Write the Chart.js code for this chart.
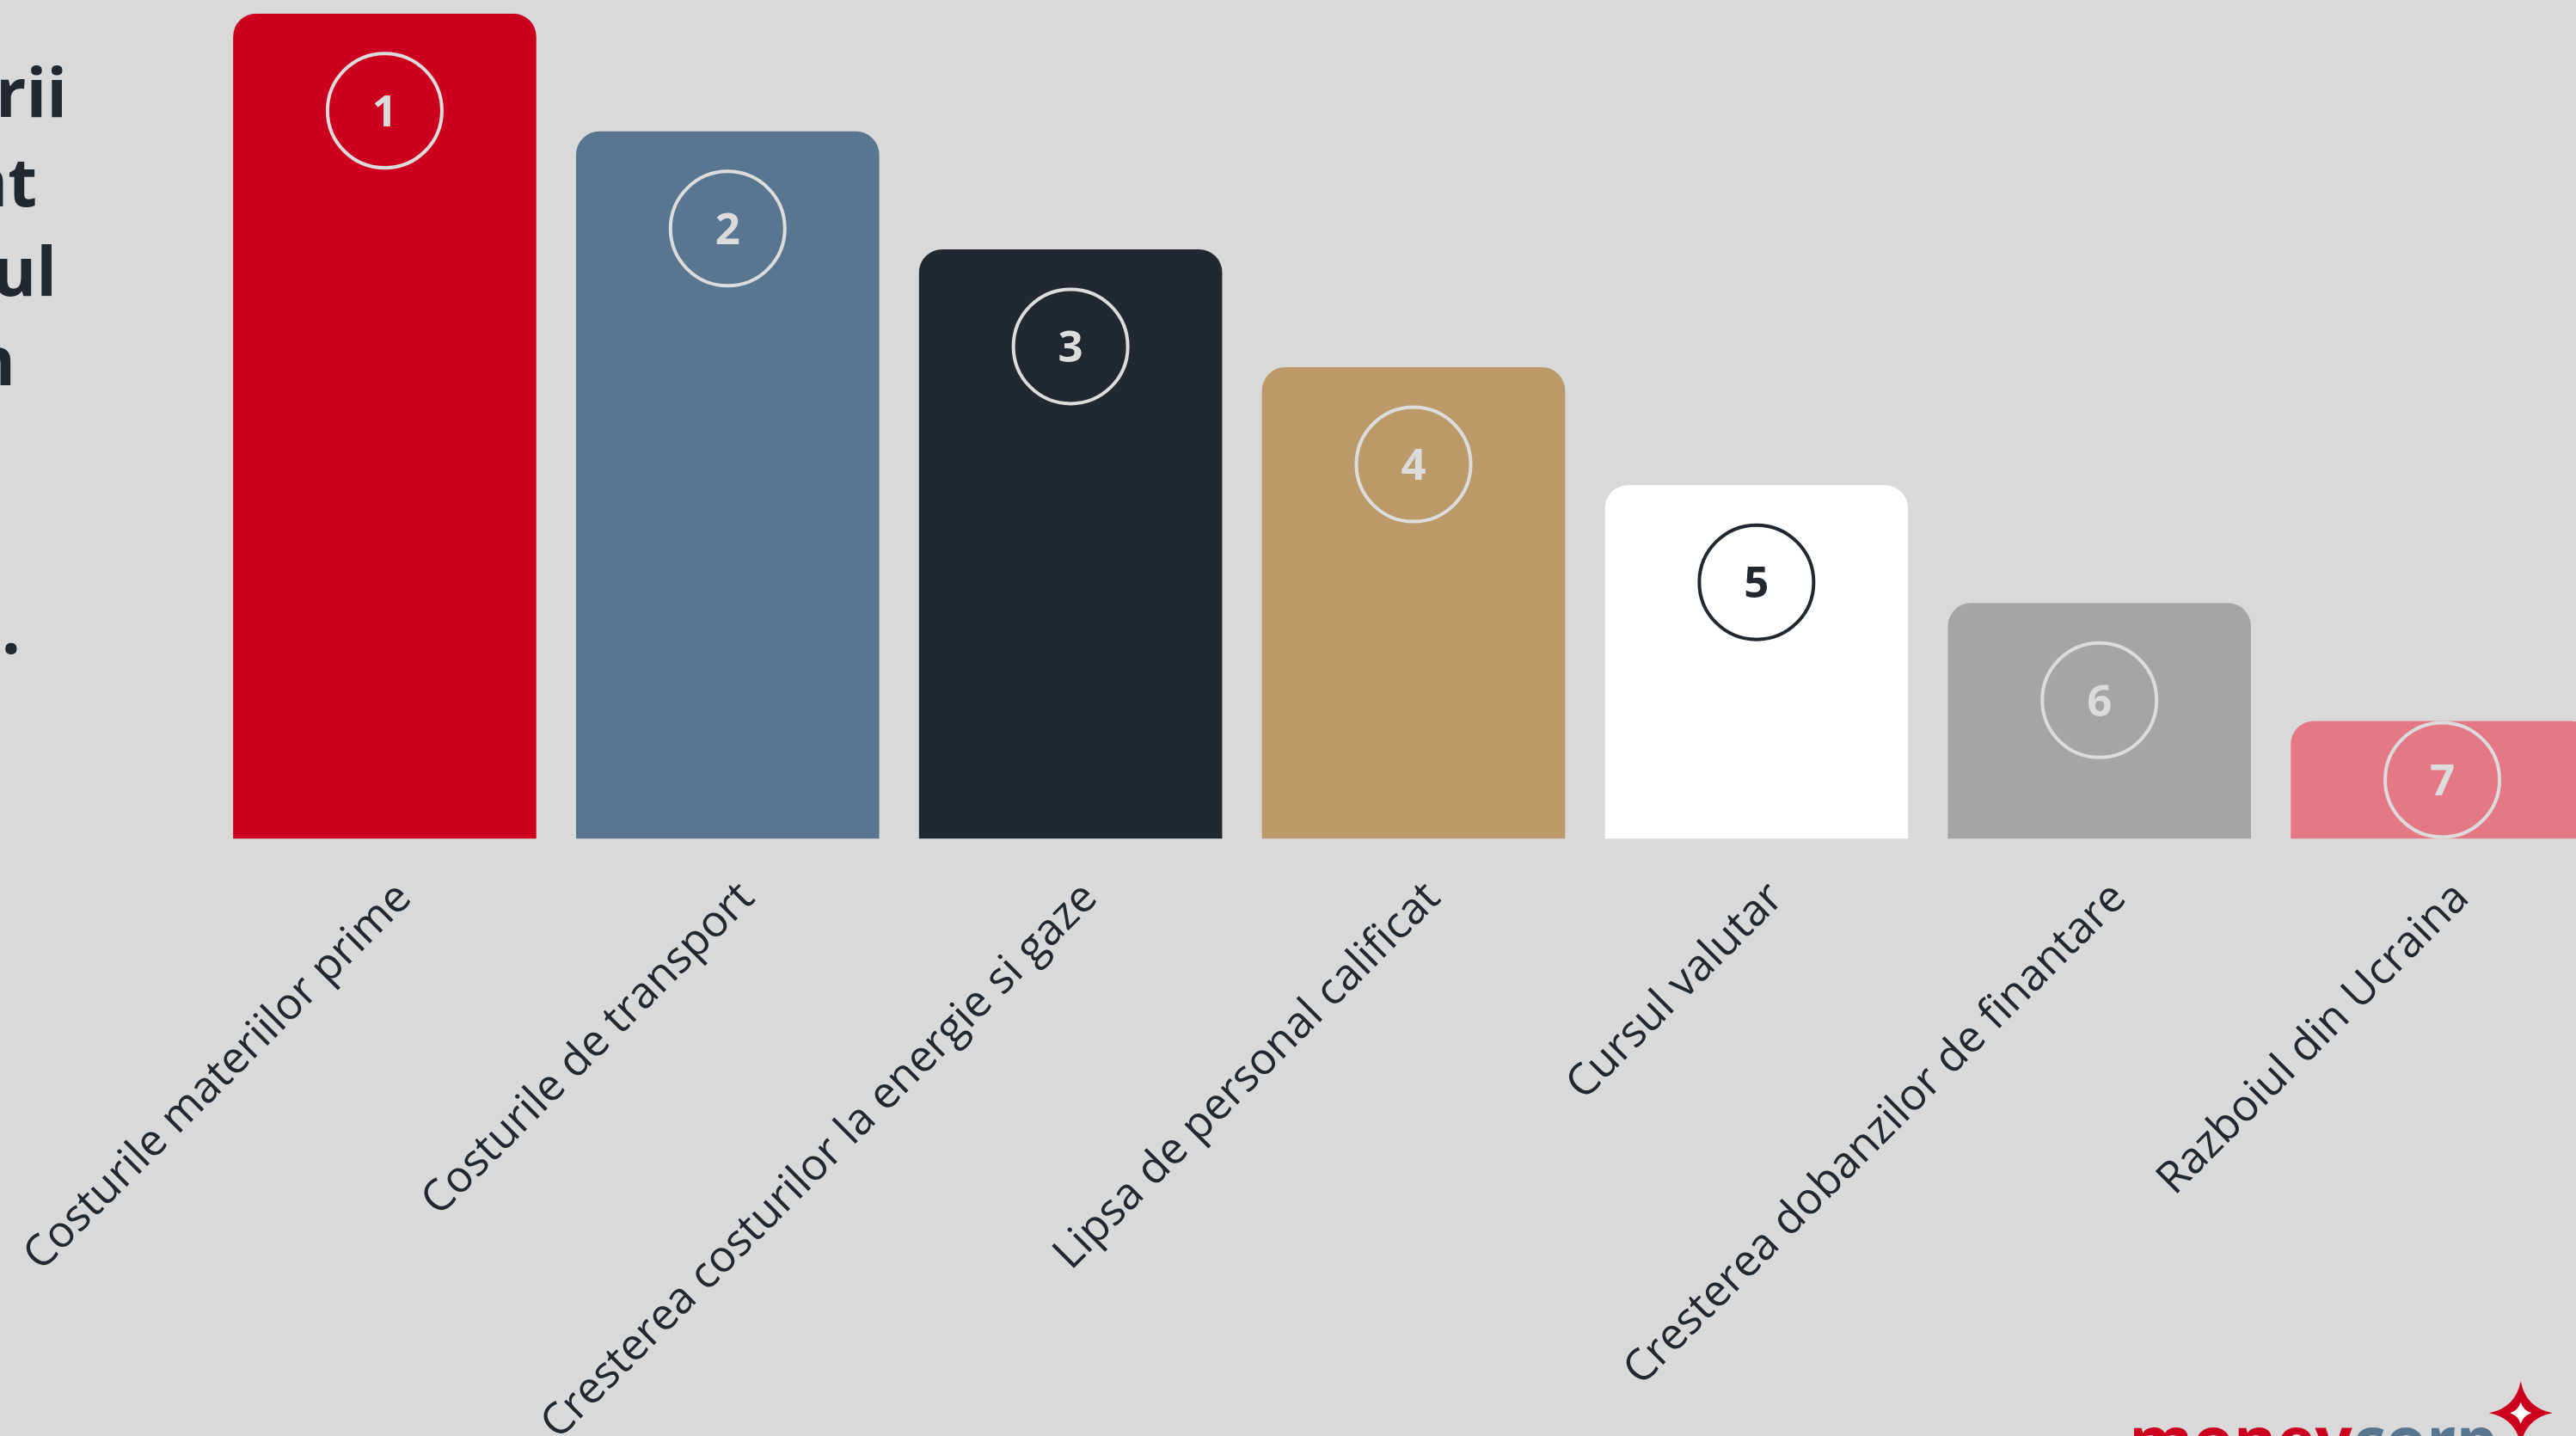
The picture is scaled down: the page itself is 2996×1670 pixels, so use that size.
<!DOCTYPE html>
<html><head><meta charset="utf-8">
<style>
html,body{margin:0;padding:0;background:#d9d9d9;overflow:hidden;width:2996px;height:1670px;}
#c{position:absolute;left:0;top:0;}
</style>
<script src="https://cdn.jsdelivr.net/npm/chart.js@4.4.1/dist/chart.umd.min.js"></script>
</head><body>
<canvas id="c" width="3060" height="1670"></canvas>
<script>
// ---- data ----
const categories = [
  "Costurile materiilor prime",
  "Costurile de transport",
  "Cresterea costurilor la energie si gaze",
  "Lipsa de personal calificat",
  "Cursul valutar",
  "Cresterea dobanzilor de finantare",
  "Razboiul din Ucraina"
];
const values = [7, 6, 5, 4, 3, 2, 1];
const ranks = ["1", "2", "3", "4", "5", "6", "7"];
const titleFragments = ["rii", "nt", "ul", "n", "", "", "."];
const logoWords = ["money", "corp"];

// ---- styles ----
const barColors = ["#cc001e", "#58768f", "#212830", "#bb9969", "#ffffff", "#a5a5a5", "#e47884"];
const badgeColors = ["#dcdcdc", "#dcdcdc", "#dcdcdc", "#dcdcdc", "#212830", "#dcdcdc", "#dcdcdc"];
const textColor = "#212830";

const badgePlugin = {
  id: "badges",
  afterDatasetsDraw(chart) {
    const ctx = chart.ctx;
    const meta = chart.getDatasetMeta(0);
    meta.data.forEach((bar, i) => {
      const top = bar.y, base = bar.base;
      const cy = Math.min(top + 113, (top + base) / 2);
      const cx = bar.x;
      ctx.save();
      ctx.strokeStyle = badgeColors[i];
      ctx.lineWidth = 4;
      ctx.beginPath();
      ctx.arc(cx, cy, 66.5, 0, Math.PI * 2);
      ctx.stroke();
      ctx.fillStyle = badgeColors[i];
      ctx.font = 'bold 51px "Open Sans"';
      ctx.textAlign = "center";
      ctx.textBaseline = "alphabetic";
      ctx.fillText(ranks[i], cx, cy + 18.3);
      ctx.restore();
    });
  }
};

const decorPlugin = {
  id: "decor",
  afterDraw(chart) {
    const ctx = chart.ctx;
    ctx.save();
    // clipped title fragments on the left
    ctx.fillStyle = textColor;
    ctx.font = 'bold 78px "Open Sans"';
    ctx.textAlign = "right";
    ctx.textBaseline = "alphabetic";
    const rights = [78, 43, 66, 18, 0, 0, 24];
    titleFragments.forEach((t, i) => {
      if (t) ctx.fillText(t, rights[i], 136 + i * 104);
    });
    // logo
    ctx.font = 'bold 76px "Open Sans"';
    ctx.textAlign = "left";
    ctx.fillStyle = "#cc001e";
    ctx.fillText(logoWords[0], 2476, 1702);
    const w = ctx.measureText(logoWords[0]).width;
    ctx.fillStyle = "#58768f";
    ctx.fillText(logoWords[1], 2476 + w, 1702);
    // star
    const sx = 2931.7, sy = 1643.3, R = 37, k = 6;
    ctx.fillStyle = "#cc001e";
    ctx.beginPath();
    ctx.moveTo(sx, sy - R);
    ctx.quadraticCurveTo(sx + k, sy - k, sx + R, sy);
    ctx.quadraticCurveTo(sx + k, sy + k, sx, sy + R);
    ctx.quadraticCurveTo(sx - k, sy + k, sx - R, sy);
    ctx.quadraticCurveTo(sx - k, sy - k, sx, sy - R);
    ctx.fill();
    const r = 12.5, k2 = 3;
    ctx.fillStyle = "#ffffff";
    ctx.beginPath();
    ctx.moveTo(sx, sy - r);
    ctx.quadraticCurveTo(sx + k2, sy - k2, sx + r, sy);
    ctx.quadraticCurveTo(sx + k2, sy + k2, sx, sy + r);
    ctx.quadraticCurveTo(sx - k2, sy + k2, sx - r, sy);
    ctx.quadraticCurveTo(sx - k2, sy - k2, sx, sy - r);
    ctx.fill();
    ctx.restore();
  }
};

new Chart(document.getElementById("c"), {
  type: "bar",
  data: {
    labels: categories,
    datasets: [{
      data: values,
      backgroundColor: barColors,
      borderWidth: 0,
      borderRadius: { topLeft: 27, topRight: 27, bottomLeft: 0, bottomRight: 0 },
      borderSkipped: false,
      categoryPercentage: 1,
      barPercentage: 0.884
    }]
  },
  options: {
    responsive: false,
    animation: false,
    devicePixelRatio: 1,
    layout: { padding: { left: 248, right: 20, top: 15.7, bottom: 0 } },
    plugins: { legend: { display: false }, tooltip: { enabled: false } },
    scales: {
      x: {
        grid: { display: false, drawTicks: false },
        border: { display: false },
        ticks: {
          color: textColor,
          font: { family: '"Open Sans"', size: 51 },
          minRotation: 45, maxRotation: 45,
          autoSkip: false,
          padding: 39,
          labelOffset: 23
        },
        afterFit(s) { s.height = 1670 - 975.5; s.paddingLeft = 0; s.paddingRight = 0; }
      },
      y: {
        display: false,
        min: 0, max: 7
      }
    }
  },
  plugins: [badgePlugin, decorPlugin]
});
</script>
</body></html>
